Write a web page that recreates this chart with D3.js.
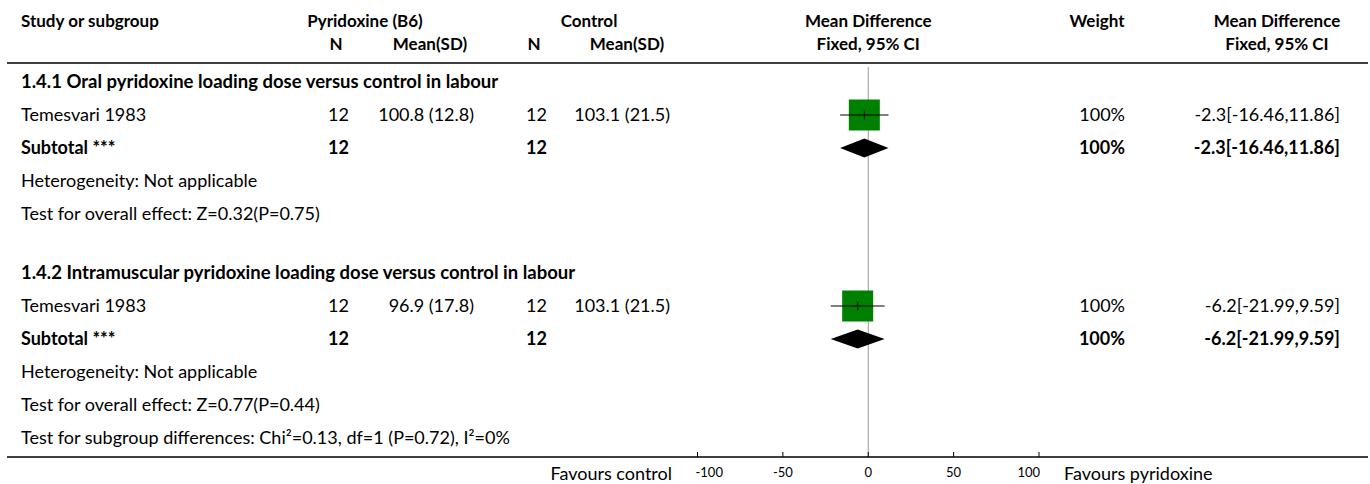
<!DOCTYPE html>
<html><head><meta charset="utf-8">
<script src="https://cdn.jsdelivr.net/npm/d3@7"></script>
<style>
html,body{margin:0;padding:0;background:#fff;}
svg text{font-family:"Lato","Noto Sans",sans-serif;font-size:18px;fill:#000;}
</style></head>
<body>
<svg id="chart" width="1370" height="484"></svg>
<script>
// ---- data ----
const subgroupTitles = ["1.4.1 Oral pyridoxine loading dose versus control in labour",
                        "1.4.2 Intramuscular pyridoxine loading dose versus control in labour"];
const studyNames = ["Temesvari 1983", "Temesvari 1983"];
const expN = [12, 12];
const expMeanSD = ["100.8 (12.8)", "96.9 (17.8)"];
const ctrlN = [12, 12];
const ctrlMeanSD = ["103.1 (21.5)", "103.1 (21.5)"];
const meanDiff = [-2.3, -6.2];
const ciLow = [-16.46, -21.99];
const ciHigh = [11.86, 9.59];
const weights = [100, 100];
const subtotalMD = [-2.3, -6.2];
const subtotalLow = [-16.46, -21.99];
const subtotalHigh = [11.86, 9.59];
const heterogeneity = ["Heterogeneity: Not applicable", "Heterogeneity: Not applicable"];
const overallEffect = ["Test for overall effect: Z=0.32(P=0.75)", "Test for overall effect: Z=0.77(P=0.44)"];
const subgroupTest = "Test for subgroup differences: Chi\u00b2=0.13, df=1 (P=0.72), I\u00b2=0%";
const axisTicks = [-100, -50, 0, 50, 100];
const favoursLeft = "Favours control";
const favoursRight = "Favours pyridoxine";

// ---- layout ----
const svg = d3.select("#chart");
const x = d3.scaleLinear().domain([-100, 100]).range([697.5, 1039]);
const rowY = i => 82 + 33 * i + (i >= 5 ? 26 : 0);
const sq = d3.scaleSqrt().domain([0, 100]).range([0, 31]);
const fmt = v => String(v);
const col = {study: 21, expN: 349, expM: 474, ctrlN: 547, ctrlM: 670, weight: 1125, ci: 1340};

function txt(xp, yp, s, opts = {}) {
  const t = svg.append("text").attr("x", xp).attr("y", yp).attr("dy", "0.35em").text(s);
  if (opts.anchor) t.attr("text-anchor", opts.anchor);
  if (opts.bold) t.attr("font-weight", "bold");
  if (opts.size) t.style("font-size", opts.size + "px");
  return t;
}

// header
const hs = 17;
txt(col.study, 21, "Study or subgroup", {bold: true, size: hs});
txt(365, 21, "Pyridoxine (B6)", {bold: true, anchor: "middle", size: hs});
txt(589, 21, "Control", {bold: true, anchor: "middle", size: hs});
txt(x(0), 21, "Mean Difference", {bold: true, anchor: "middle", size: hs});
txt(1097, 21, "Weight", {bold: true, anchor: "middle", size: hs});
txt(1277, 21, "Mean Difference", {bold: true, anchor: "middle", size: hs});
txt(336, 44, "N", {bold: true, anchor: "middle", size: hs});
txt(430, 44, "Mean(SD)", {bold: true, anchor: "middle", size: hs});
txt(534, 44, "N", {bold: true, anchor: "middle", size: hs});
txt(627, 44, "Mean(SD)", {bold: true, anchor: "middle", size: hs});
txt(x(0), 44, "Fixed, 95% CI", {bold: true, anchor: "middle", size: hs});
txt(1277, 44, "Fixed, 95% CI", {bold: true, anchor: "middle", size: hs});

svg.append("line").attr("x1", 7).attr("x2", 1368).attr("y1", 63).attr("y2", 63)
  .attr("stroke", "#000").attr("stroke-width", 1.6);

// zero line
svg.append("line").attr("x1", x(0)).attr("x2", x(0)).attr("y1", 67).attr("y2", 457)
  .attr("stroke", "#999").attr("stroke-width", 1);

subgroupTitles.forEach((title, g) => {
  const base = g * 5;
  txt(col.study, rowY(base), title, {bold: true, size: 18.5});
  // study row
  const ys = rowY(base + 1);
  txt(col.study, ys, studyNames[g]);
  txt(col.expN, ys, fmt(expN[g]), {anchor: "end"});
  txt(col.expM, ys, expMeanSD[g], {anchor: "end"});
  txt(col.ctrlN, ys, fmt(ctrlN[g]), {anchor: "end"});
  txt(col.ctrlM, ys, ctrlMeanSD[g], {anchor: "end"});
  txt(col.weight, ys, weights[g] + "%", {anchor: "end"});
  txt(col.ci, ys, meanDiff[g] + "[" + ciLow[g] + "," + ciHigh[g] + "]", {anchor: "end"});
  const s = sq(weights[g]);
  svg.append("rect").attr("x", x(meanDiff[g]) - s / 2).attr("y", ys - s / 2)
    .attr("width", s).attr("height", s).attr("fill", "#008000");
  svg.append("line").attr("x1", x(ciLow[g])).attr("x2", x(ciHigh[g])).attr("y1", ys).attr("y2", ys)
    .attr("stroke", "#000").attr("stroke-width", 1);
  svg.append("line").attr("x1", x(meanDiff[g])).attr("x2", x(meanDiff[g])).attr("y1", ys - 4.5).attr("y2", ys + 4.5)
    .attr("stroke", "#000").attr("stroke-width", 1);
  // subtotal
  const yt = rowY(base + 2);
  txt(col.study, yt, "Subtotal ***", {bold: true});
  txt(col.expN, yt, fmt(d3.sum([expN[g]])), {anchor: "end", bold: true});
  txt(col.ctrlN, yt, fmt(d3.sum([ctrlN[g]])), {anchor: "end", bold: true});
  txt(col.weight, yt, weights[g] + "%", {anchor: "end", bold: true});
  txt(col.ci, yt, subtotalMD[g] + "[" + subtotalLow[g] + "," + subtotalHigh[g] + "]", {anchor: "end", bold: true});
  const h = 9.5;
  svg.append("path")
    .attr("d", `M${x(subtotalLow[g])},${yt} L${x(subtotalMD[g])},${yt - h} L${x(subtotalHigh[g])},${yt} L${x(subtotalMD[g])},${yt + h} Z`)
    .attr("fill", "#000");
  txt(col.study, rowY(base + 3), heterogeneity[g]);
  txt(col.study, rowY(base + 4), overallEffect[g]);
});
txt(col.study, rowY(10), subgroupTest);

// bottom axis
const axisY = 457;
svg.append("line").attr("x1", 7).attr("x2", 1368).attr("y1", axisY).attr("y2", axisY)
  .attr("stroke", "#000").attr("stroke-width", 1.6);
const ag = svg.append("g").attr("transform", `translate(0,${axisY})`);
ag.selectAll("line.tick").data(axisTicks).join("line")
  .attr("x1", d => x(d)).attr("x2", d => x(d)).attr("y1", -5).attr("y2", 0)
  .attr("stroke", "#000").attr("stroke-width", 1);
const [dMin, dMax] = x.domain();
ag.selectAll("text").data(axisTicks).join("text")
  .attr("x", d => x(d) + (d === dMin ? -2 : d === dMax ? 1 : 0))
  .attr("y", 15)
  .attr("dy", "0.35em")
  .attr("text-anchor", d => d === dMin ? "start" : d === dMax ? "end" : "middle")
  .style("font-size", "13px").text(d => d);
txt(672, 474, favoursLeft, {anchor: "end"});
txt(1064, 474, favoursRight);
</script>
</body></html>
